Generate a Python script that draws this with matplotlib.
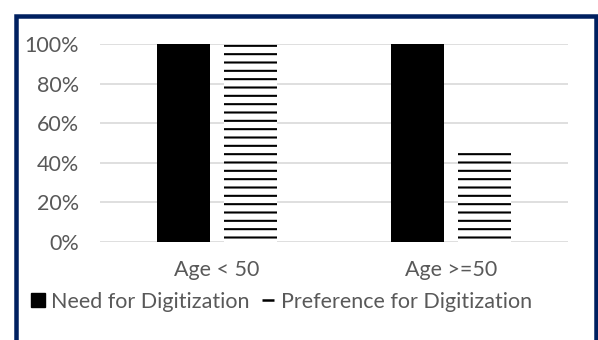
import matplotlib
matplotlib.use("Agg")
import matplotlib.pyplot as plt
from matplotlib.patches import Rectangle
from matplotlib.lines import Line2D
from matplotlib.ticker import PercentFormatter

categories = ["Age < 50", "Age >=50"]
need = [1.00, 1.00]
preference = [1.00, 0.48]
series_names = ["Need for Digitization", "Preference for Digitization"]
yticks = [0, 0.2, 0.4, 0.6, 0.8, 1.0]

plt.rcParams['font.family'] = ['Lato', 'DejaVu Sans']
plt.rcParams['hatch.linewidth'] = 1.5
text_color = '#595959'
fs = 15.5

W, H = 598, 340
fig = plt.figure(figsize=(W / 100, H / 100), dpi=100)
fig.patch.set_facecolor('white')

ax = fig.add_axes([100 / W, 98 / H, 468 / W, 198 / H])
x = list(range(len(categories)))
bw = 0.226
off = 0.142
ax.bar([i - off for i in x], need, width=bw, color='black', linewidth=0, zorder=3)
ax.bar([i + off for i in x], preference, width=bw, facecolor='white',
       edgecolor='black', hatch='--', linewidth=0, zorder=3)

ax.set_xlim(-0.5, 1.5)
ax.set_ylim(0, 1.0)
ax.set_yticks(yticks)
ax.yaxis.set_major_formatter(PercentFormatter(1.0, decimals=0))
ax.set_xticks(x)
ax.set_xticklabels(categories)
ax.tick_params(axis='both', length=0, labelsize=fs, labelcolor=text_color)
ax.tick_params(axis='x', pad=13)
ax.tick_params(axis='y', pad=15)
ax.grid(axis='y', color='#d9d9d9', linewidth=1.2, zorder=0)
for s in ax.spines.values():
    s.set_visible(False)
ax.set_facecolor('none')

handles = [
    Line2D([], [], linestyle='none', marker='s', markersize=9.5, color='black'),
    Line2D([], [], linestyle='none', marker='_', markersize=9, markeredgewidth=1.8, color='black'),
]
leg = fig.legend(handles, series_names, loc='center left', bbox_to_anchor=(21 / W, 1 - 302 / H),
                 ncol=2, frameon=False, fontsize=fs, handlelength=0.8, handletextpad=0.2,
                 columnspacing=0.45, borderaxespad=0)
for t in leg.get_texts():
    t.set_color(text_color)

# border
fig.patches.append(Rectangle((15.5 / W, -10 / H), (595.5 - 15.5) / W, (340 - 15.5 + 10) / H,
                             transform=fig.transFigure, fill=False, edgecolor='#002060',
                             linewidth=4.5 * 72 / 100))

fig.savefig('out.png', dpi=100)
